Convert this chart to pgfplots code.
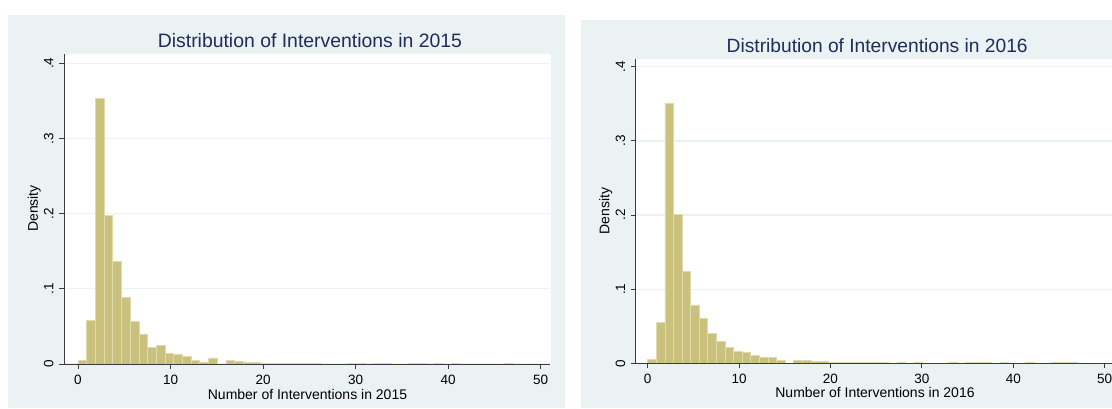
\documentclass[border=0pt]{standalone}
\usepackage{pgfplots}
\pgfplotsset{compat=1.18}
\usepackage{fontspec}
\setmainfont{Liberation Sans}
\definecolor{panel}{RGB}{234,242,243}
\definecolor{barfill}{RGB}{201,193,125}
\definecolor{barline}{RGB}{224,219,171}
\definecolor{titlec}{RGB}{30,45,90}
\definecolor{axisc}{RGB}{60,60,60}

\pgfplotsset{statahist/.style={
  scale only axis,
  ymin=0,
  axis x line*=bottom, axis y line*=left,
  axis line style={axisc, line width=0.9pt, -},
  tick style={axisc, line width=0.9pt},
  tick align=outside, major tick length=5pt,
  xtick={0,10,20,30,40,50}, xticklabels={0,10,20,30,40,50},
  ytick={0,0.1,0.2,0.3,0.4}, yticklabels={0,.1,.2,.3,.4},
  ymajorgrids, grid style={draw=panel, line width=1.3pt},
  tick label style={font=\fontsize{13.5}{16}\selectfont, text=black, inner sep=0pt},
  xticklabel style={anchor=north},
  xticklabel shift=6pt,
  yticklabel style={rotate=90, anchor=south},
  yticklabel shift=5.3pt,
  every axis title/.style={anchor=center, inner sep=0pt, text=titlec},
  xlabel style={anchor=center, inner sep=0pt, font=\fontsize{14}{17}\selectfont},
  ylabel style={anchor=base, inner sep=0pt, font=\fontsize{14}{17}\selectfont},
  ylabel={Density},
  clip=false,
}}

\begin{document}
\begin{tikzpicture}[x=1pt,y=1pt]
\useasboundingbox (0,0) rectangle (1112,408);
\fill[white] (0,0) rectangle (1112,408);
\fill[panel] (8,0) rectangle (565,393);
\fill[white] (64,44) rectangle (551,354);
\fill[panel] (581,0) rectangle (1112,388);
\fill[white] (635.7,44.7) rectangle (1112,349);

% ---------- 2015 ----------
\begin{axis}[statahist,
  at={(64pt,44pt)}, anchor=south west,
  width=486pt, height=310pt,
  xmin=-1.51, xmax=51.0, ymax=0.4124,
  title={Distribution of Interventions in 2015},
  title style={at={(axis description cs:0.506,1.042)}, font=\fontsize{19.4}{23}\selectfont},
  xlabel={Number of Interventions in 2015},
  xlabel style={at={(axis description cs:0.501,-0.099)}},
  ylabel style={at={(axis description cs:-0.0535,0.5016)}},
]
\addplot[ybar, bar width=0.94, bar shift=0pt, fill=barfill, draw=barline, line width=0.7pt] coordinates {
(0.47,0.0042) (1.41,0.0575) (2.35,0.353) (3.29,0.198) (4.23,0.137)
(5.17,0.089) (6.11,0.057) (7.05,0.040) (7.99,0.022) (8.93,0.0245)
(9.87,0.0145) (10.81,0.013) (11.75,0.0098) (12.69,0.0045) (13.63,0.0025)
(14.57,0.008) (16.45,0.0047) (17.39,0.0033) (18.33,0.002) (19.27,0.0018)
(20.21,0.0012) (21.15,0.001) (22.09,0.001) (23.03,0.0008) (23.97,0.0008)
(24.91,0.0008) (25.85,0.0006) (29.61,0.0007) (30.55,0.0006) (32.43,0.0006)
(33.37,0.0007) (36.19,0.0006) (37.13,0.0006) (39.01,0.0006) (40.89,0.0006)
(46.53,0.0006)
};
\draw[axisc, line width=0.9pt] (rel axis cs:0,0) -- (rel axis cs:1,0);
\end{axis}

% ---------- 2016 ----------
\begin{axis}[statahist,
  at={(635.7pt,44.7pt)}, anchor=south west,
  width=476.3pt, height=304.3pt,
  xmin=-1.313, xmax=50.80, ymax=0.4104,
  title={Distribution of Interventions in 2016},
  title style={at={(axis description cs:0.507,1.0444)}, font=\fontsize{19.2}{23}\selectfont},
  xlabel={Number of Interventions in 2016},
  xlabel style={at={(axis description cs:0.5024,-0.096)}},
  ylabel style={at={(axis description cs:-0.0554,0.501)}},
]
\addplot[ybar, bar width=0.94, bar shift=0pt, fill=barfill, draw=barline, line width=0.7pt] coordinates {
(0.47,0.0054) (1.41,0.0556) (2.35,0.351) (3.29,0.2008) (4.23,0.1235)
(5.17,0.0788) (6.11,0.060) (7.05,0.0407) (7.99,0.030) (8.93,0.021)
(9.87,0.0165) (10.81,0.0148) (11.75,0.0103) (12.69,0.0074) (13.63,0.0083)
(14.57,0.0035) (16.45,0.0043) (17.39,0.0035) (18.33,0.0027) (19.27,0.002)
(20.21,0.001) (21.15,0.001) (22.09,0.0015) (23.03,0.0012) (23.97,0.0012)
(24.91,0.0012) (25.85,0.0012) (27.73,0.0008) (29.61,0.0008) (33.37,0.0008)
(35.25,0.0008) (36.19,0.0008) (37.13,0.0008) (39.01,0.0007) (41.83,0.0007)
(44.65,0.0007) (45.59,0.0007) (46.53,0.0007)
};
\draw[axisc, line width=0.9pt] (rel axis cs:0,0) -- (rel axis cs:1,0);
\end{axis}
\end{tikzpicture}
\end{document}
